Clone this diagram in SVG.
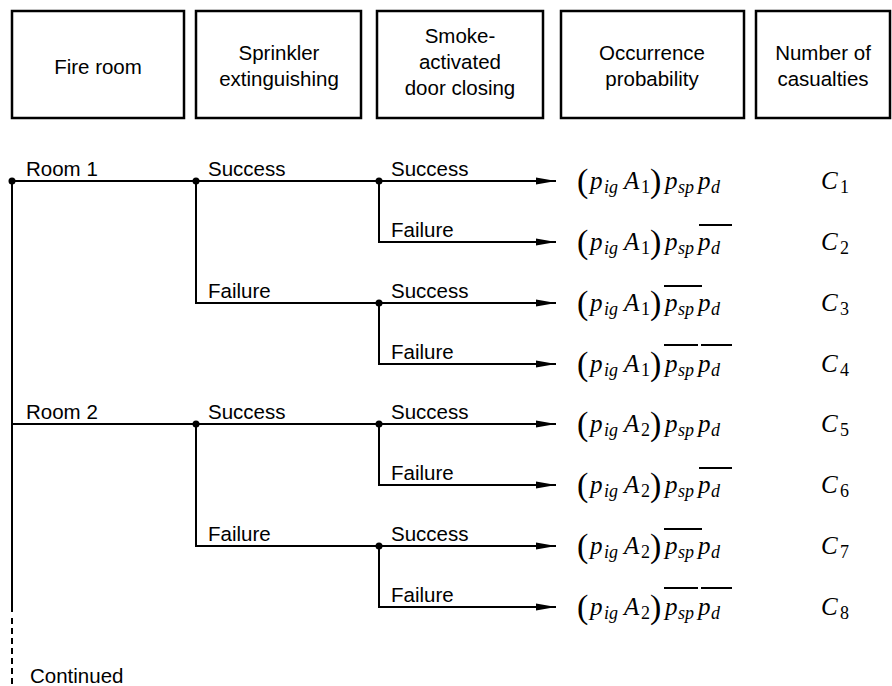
<svg xmlns="http://www.w3.org/2000/svg" width="892" height="686" viewBox="0 0 892 686">
<style>
.box{fill:#fff;stroke:#000;stroke-width:2.5}
.ht{font-family:"Liberation Sans",Arial,sans-serif;font-size:20.5px;fill:#000;text-anchor:middle}
.lb{font-family:"Liberation Sans",Arial,sans-serif;font-size:20.5px;fill:#000}
.ln{fill:none;stroke:#000;stroke-width:2}
.m{font-family:"Liberation Serif","Times New Roman",serif;font-style:italic;font-size:25px;fill:#000}
.s{font-family:"Liberation Serif","Times New Roman",serif;font-style:italic;font-size:18px;fill:#000}
.n{font-family:"Liberation Serif","Times New Roman",serif;font-size:18px;fill:#000}
.par{font-family:"Liberation Serif","Times New Roman",serif;font-size:34px;fill:#000}
.bar{stroke:#000;stroke-width:2}
</style>
<defs>
<marker id="ah" markerWidth="20" markerHeight="8" refX="20" refY="4" orient="auto" markerUnits="userSpaceOnUse">
<path d="M0,0.5 L20,4 L0,7.5 Z" fill="#000"/>
</marker>
</defs>

<g id="h1"><rect class="box" x="12" y="11" width="172" height="107"/><text class="ht" x="98" y="74">Fire room</text></g>
<g id="h2"><rect class="box" x="196" y="11" width="165" height="107"/><text class="ht" x="279" y="60">Sprinkler</text><text class="ht" x="279" y="86">extinguishing</text></g>
<g id="h3"><rect class="box" x="377" y="11" width="166" height="107"/><text class="ht" x="460" y="43">Smoke-</text><text class="ht" x="460" y="69">activated</text><text class="ht" x="460" y="95">door closing</text></g>
<g id="h4"><rect class="box" x="561" y="11" width="183" height="107"/><text class="ht" x="652" y="60">Occurrence</text><text class="ht" x="652" y="86">probability</text></g>
<g id="h5"><rect class="box" x="756" y="11" width="134" height="107"/><text class="ht" x="823" y="60">Number of</text><text class="ht" x="823" y="86">casualties</text></g>

<g id="connectors">
<path class="ln" d="M12,181 V612"/>
<path class="ln" d="M12,618 V686" stroke-dasharray="6,4"/>
<path class="ln" d="M12,181 H556" marker-end="url(#ah)"/>
<path class="ln" d="M379,181 V242 H556" marker-end="url(#ah)"/>
<path class="ln" d="M196,181 V303 H556" marker-end="url(#ah)"/>
<path class="ln" d="M379,303 V364 H556" marker-end="url(#ah)"/>
<path class="ln" d="M12,424 H556" marker-end="url(#ah)"/>
<path class="ln" d="M379,424 V485 H556" marker-end="url(#ah)"/>
<path class="ln" d="M196,424 V546 H556" marker-end="url(#ah)"/>
<path class="ln" d="M379,546 V607 H556" marker-end="url(#ah)"/>
<circle cx="12" cy="181" r="3.5"/>
<circle cx="196" cy="181" r="3.5"/>
<circle cx="379" cy="181" r="3.5"/>
<circle cx="379" cy="303" r="3.5"/>
<circle cx="196" cy="424" r="3.5"/>
<circle cx="379" cy="424" r="3.5"/>
<circle cx="379" cy="546" r="3.5"/>
</g>

<g id="labels">
<text class="lb" x="26" y="176">Room 1</text>
<text class="lb" x="208" y="176">Success</text>
<text class="lb" x="391" y="176">Success</text>
<text class="lb" x="391" y="237">Failure</text>
<text class="lb" x="208" y="298">Failure</text>
<text class="lb" x="391" y="298">Success</text>
<text class="lb" x="391" y="359">Failure</text>
<text class="lb" x="26" y="419">Room 2</text>
<text class="lb" x="208" y="419">Success</text>
<text class="lb" x="391" y="419">Success</text>
<text class="lb" x="391" y="480">Failure</text>
<text class="lb" x="208" y="541">Failure</text>
<text class="lb" x="391" y="541">Success</text>
<text class="lb" x="391" y="602">Failure</text>
<text class="lb" x="30" y="683">Continued</text>
</g>

<g id="r1" transform="translate(0,181)">
<text class="par" x="577" y="11">(</text><text class="m" x="590" y="8">p</text><text class="s" x="604" y="12">ig</text><text class="m" x="624" y="8">A</text><text class="n" x="641" y="12">1</text><text class="par" x="650" y="11">)</text>
<text class="m" x="665" y="8">p</text><text class="s" x="678" y="12">sp</text><text class="m" x="698" y="8">p</text><text class="s" x="711" y="12">d</text>
<text class="m" x="821" y="8">C</text><text class="n" x="840" y="12">1</text>
</g>
<g id="r2" transform="translate(0,242)">
<text class="par" x="577" y="11">(</text><text class="m" x="590" y="8">p</text><text class="s" x="604" y="12">ig</text><text class="m" x="624" y="8">A</text><text class="n" x="641" y="12">1</text><text class="par" x="650" y="11">)</text>
<text class="m" x="665" y="8">p</text><text class="s" x="678" y="12">sp</text><text class="m" x="698" y="8">p</text><text class="s" x="711" y="12">d</text>
<line class="bar" x1="699" y1="-17" x2="732" y2="-17"/>
<text class="m" x="821" y="8">C</text><text class="n" x="840" y="12">2</text>
</g>
<g id="r3" transform="translate(0,303)">
<text class="par" x="577" y="11">(</text><text class="m" x="590" y="8">p</text><text class="s" x="604" y="12">ig</text><text class="m" x="624" y="8">A</text><text class="n" x="641" y="12">1</text><text class="par" x="650" y="11">)</text>
<text class="m" x="665" y="8">p</text><text class="s" x="678" y="12">sp</text><text class="m" x="698" y="8">p</text><text class="s" x="711" y="12">d</text>
<line class="bar" x1="664" y1="-17" x2="702" y2="-17"/>
<text class="m" x="821" y="8">C</text><text class="n" x="840" y="12">3</text>
</g>
<g id="r4" transform="translate(0,364)">
<text class="par" x="577" y="11">(</text><text class="m" x="590" y="8">p</text><text class="s" x="604" y="12">ig</text><text class="m" x="624" y="8">A</text><text class="n" x="641" y="12">1</text><text class="par" x="650" y="11">)</text>
<text class="m" x="665" y="8">p</text><text class="s" x="678" y="12">sp</text><text class="m" x="698" y="8">p</text><text class="s" x="711" y="12">d</text>
<line class="bar" x1="664" y1="-19" x2="698" y2="-19"/><line class="bar" x1="701" y1="-19" x2="732" y2="-19"/>
<text class="m" x="821" y="8">C</text><text class="n" x="840" y="12">4</text>
</g>
<g id="r5" transform="translate(0,424)">
<text class="par" x="577" y="11">(</text><text class="m" x="590" y="8">p</text><text class="s" x="604" y="12">ig</text><text class="m" x="624" y="8">A</text><text class="n" x="641" y="12">2</text><text class="par" x="650" y="11">)</text>
<text class="m" x="665" y="8">p</text><text class="s" x="678" y="12">sp</text><text class="m" x="698" y="8">p</text><text class="s" x="711" y="12">d</text>
<text class="m" x="821" y="8">C</text><text class="n" x="840" y="12">5</text>
</g>
<g id="r6" transform="translate(0,485)">
<text class="par" x="577" y="11">(</text><text class="m" x="590" y="8">p</text><text class="s" x="604" y="12">ig</text><text class="m" x="624" y="8">A</text><text class="n" x="641" y="12">2</text><text class="par" x="650" y="11">)</text>
<text class="m" x="665" y="8">p</text><text class="s" x="678" y="12">sp</text><text class="m" x="698" y="8">p</text><text class="s" x="711" y="12">d</text>
<line class="bar" x1="699" y1="-17" x2="732" y2="-17"/>
<text class="m" x="821" y="8">C</text><text class="n" x="840" y="12">6</text>
</g>
<g id="r7" transform="translate(0,546)">
<text class="par" x="577" y="11">(</text><text class="m" x="590" y="8">p</text><text class="s" x="604" y="12">ig</text><text class="m" x="624" y="8">A</text><text class="n" x="641" y="12">2</text><text class="par" x="650" y="11">)</text>
<text class="m" x="665" y="8">p</text><text class="s" x="678" y="12">sp</text><text class="m" x="698" y="8">p</text><text class="s" x="711" y="12">d</text>
<line class="bar" x1="664" y1="-17" x2="702" y2="-17"/>
<text class="m" x="821" y="8">C</text><text class="n" x="840" y="12">7</text>
</g>
<g id="r8" transform="translate(0,607)">
<text class="par" x="577" y="11">(</text><text class="m" x="590" y="8">p</text><text class="s" x="604" y="12">ig</text><text class="m" x="624" y="8">A</text><text class="n" x="641" y="12">2</text><text class="par" x="650" y="11">)</text>
<text class="m" x="665" y="8">p</text><text class="s" x="678" y="12">sp</text><text class="m" x="698" y="8">p</text><text class="s" x="711" y="12">d</text>
<line class="bar" x1="664" y1="-19" x2="698" y2="-19"/><line class="bar" x1="701" y1="-19" x2="732" y2="-19"/>
<text class="m" x="821" y="8">C</text><text class="n" x="840" y="12">8</text>
</g>
</svg>
